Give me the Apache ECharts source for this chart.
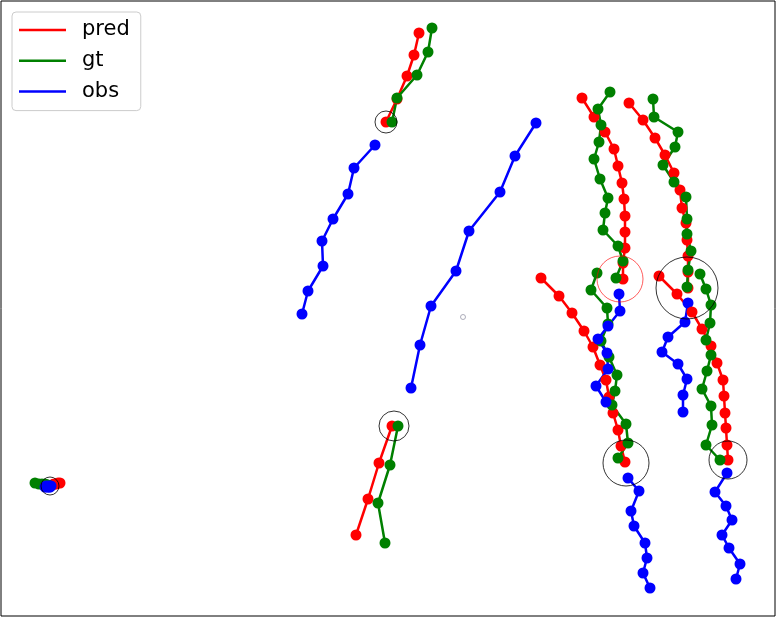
<!DOCTYPE html>
<html lang="en">
<head>
    <meta charset="UTF-8">
    <title>trajectories</title>
    <script src="https://cdn.jsdelivr.net/npm/echarts@6/dist/echarts.min.js"></script>
    <style>
        html, body { margin: 0; padding: 0; background: #fff; }
        #main { width: 776px; height: 617px; }
    </style>
</head>
<body>
    <div id="main"></div>
    <script>
        // points are in picture units (x right, y down)
        var obsA = [[302,314],[308,291],[323,266],[322,241],[333,219],[348,194],[354,168],[375,145]];
        var predA = [[386,122],[397,99],[407,76],[414,55],[419,33]];
        var gtA = [[392,122],[397,98],[417,75],[428,52],[432,28]];

        var obsC = [[536,123],[515,156],[500,192],[469,231],[456,271],[431,306],[420,345],[411,388]];
        var predC = [[392,426],[379,463],[368,499],[356,535]];
        var gtC = [[398,426],[390,465],[378,503],[385,543]];

        var obsD = [[650,588],[643,573],[647,558],[645,543],[634,526],[631,511],[639,491],[628,478]];
        var predD = [[625,462],[621,446],[618,430],[613,413],[609,397],[606,380],[600,365],[593,347],[584,331],[572,313],[559,296],[541,278]];
        var gtD = [[618,458],[628,443],[626,424],[612,405],[615,391],[617,375],[609,357],[601,341],[608,324],[607,308],[591,290],[597,273]];

        var obsE = [[606,402],[596,386],[608,369],[607,353],[598,339],[608,326],[620,311],[619,294]];
        var predE = [[623,279],[623,263],[625,248],[625,232],[625,216],[624,199],[622,183],[618,166],[614,149],[605,132],[594,117],[582,98]];
        var gtE = [[616,278],[623,261],[618,246],[603,230],[605,213],[608,198],[600,179],[594,159],[599,142],[601,125],[598,109],[610,92]];

        var obsF = [[683,412],[683,395],[687,379],[678,364],[662,352],[668,337],[685,322],[688,303]];
        var predF = [[688,288],[688,272],[688,256],[687,240],[686,223],[682,208],[680,190],[674,173],[665,155],[655,138],[643,120],[629,103]];
        var gtF = [[687,287],[688,270],[691,251],[687,234],[687,219],[686,197],[674,182],[663,165],[675,147],[678,132],[654,117],[653,99]];

        var obsG = [[736,579],[740,564],[729,548],[722,535],[732,520],[726,506],[715,492],[727,473]];
        var predG = [[728,460],[727,445],[726,428],[725,413],[724,396],[723,380],[717,363],[711,346],[702,329],[692,312],[677,294],[659,276]];
        var gtG = [[720,460],[706,445],[712,425],[711,406],[702,389],[707,371],[711,355],[706,340],[710,323],[711,305],[706,289],[700,274]];

        var obsH = [[45,487],[46,486],[47,487],[48,486],[49,487],[50,486],[50,487],[51,486]];
        var predH = [[52,485],[54,484],[56,484],[58,483],[60,483]];
        var gtH = [[48,485],[45,484],[42,484],[39,484],[35,483]];

        // circles: [x, y, radius]
        var blackRings = [[386,122,11],[394,426,15],[50,486,9],[626,463,23],[687,288,31],[728,460,19]];
        var redRings = [[620,279,23]];
        var grayDots = [[463,317,2.5]];

        var agents = [
            [predA, gtA, obsA], [predC, gtC, obsC], [predD, gtD, obsD], [predE, gtE, obsE],
            [predF, gtF, obsF], [predG, gtG, obsG], [predH, gtH, obsH]
        ];
        var names = ['pred', 'gt', 'obs'];
        var colors = ['#ff0000', '#008000', '#0000ff'];

        var series = [];
        agents.forEach(function (ag) {
            for (var k = 0; k < 3; k++) {
                series.push({
                    name: names[k],
                    type: 'line',
                    data: ag[k],
                    symbol: 'circle',
                    symbolSize: 11,
                    showSymbol: true,
                    lineStyle: { width: 2.5, color: colors[k] },
                    itemStyle: { color: colors[k] },
                    emphasis: { disabled: true },
                    animation: false
                });
            }
        });

        function ring(name, list, color, width) {
            return {
                name: name,
                type: 'scatter',
                data: list.map(function (c) { return [c[0], c[1], c[2]]; }),
                symbol: 'circle',
                symbolSize: function (v) { return v[2] * 2; },
                itemStyle: { color: 'rgba(0,0,0,0)', borderColor: color, borderWidth: width },
                emphasis: { disabled: true },
                z: 5,
                animation: false
            };
        }
        series.push(ring('rings', blackRings, '#000000', 1));
        series.push(ring('redrings', redRings, '#ff0000', 0.8));
        series.push(ring('gray', grayDots, '#9a9aaa', 1));

        var myChart = echarts.init(document.getElementById('main'));
        var option = {
            animation: false,
            grid: {
                left: 1, right: 1, top: 1, bottom: 1,
                show: true, borderColor: '#000', borderWidth: 1, backgroundColor: '#fff'
            },
            xAxis: {
                type: 'value', min: 1, max: 775,
                axisLine: { show: false }, axisTick: { show: false },
                axisLabel: { show: false }, splitLine: { show: false }
            },
            yAxis: {
                type: 'value', min: 1, max: 616, inverse: true,
                axisLine: { show: false }, axisTick: { show: false },
                axisLabel: { show: false }, splitLine: { show: false }
            },
            legend: {
                data: names.map(function (n) { return { name: n, icon: 'rect' }; }),
                orient: 'vertical',
                left: 12, top: 12,
                itemWidth: 47, itemHeight: 2.5,
                itemGap: 8.8,
                padding: [7, 11, 8, 7],
                borderColor: '#cccccc', borderWidth: 1, borderRadius: 4,
                backgroundColor: 'rgba(255,255,255,0.8)',
                selectedMode: false,
                textStyle: {
                    fontFamily: 'DejaVu Sans', fontSize: 21, color: '#000',
                    lineHeight: 22, padding: [0, 0, 0, 11]
                }
            },
            series: series
        };
        myChart.setOption(option);
    </script>
</body>
</html>
